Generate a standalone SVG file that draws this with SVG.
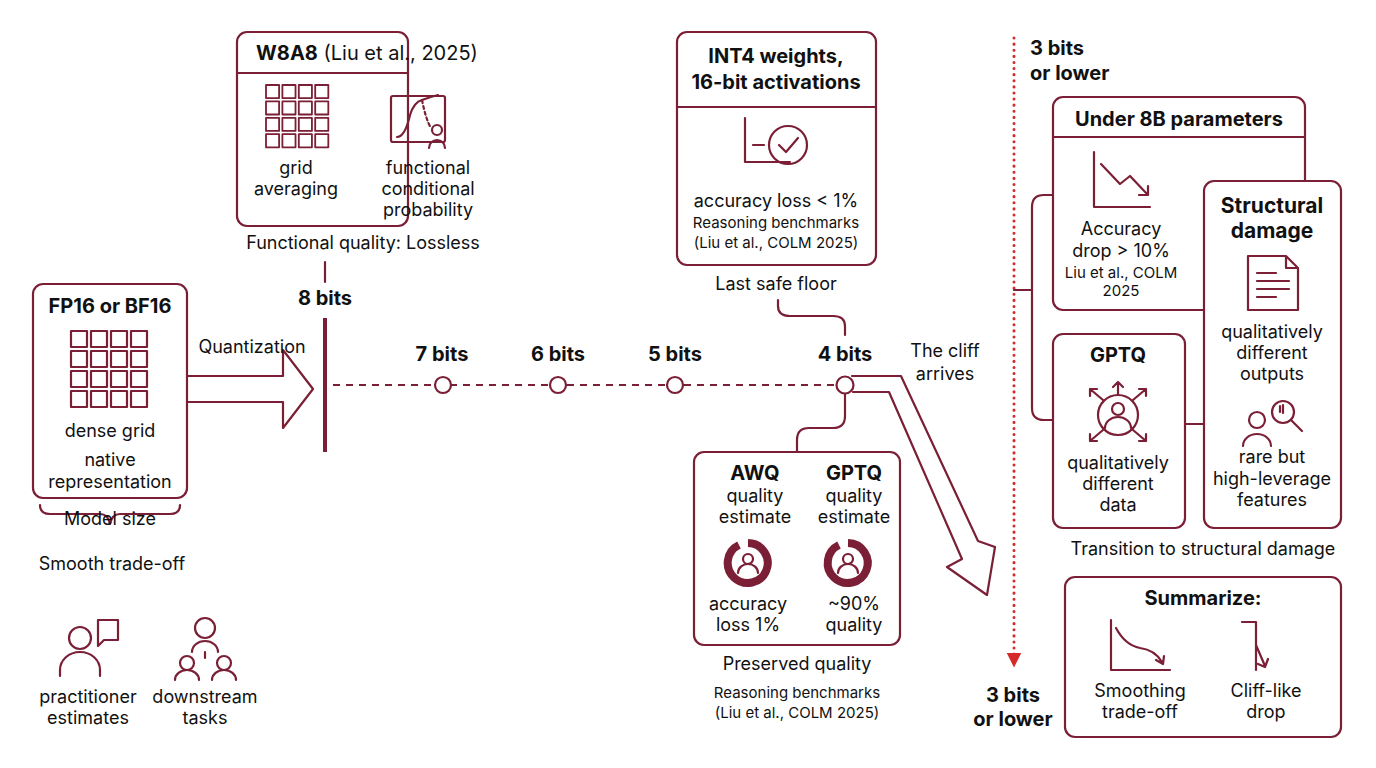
<svg xmlns="http://www.w3.org/2000/svg" width="1376" height="768" viewBox="0 0 1376 768">
<style>
text{font-family:Inter,"Liberation Sans",sans-serif;fill:#111;text-anchor:middle;font-size:18px}
.b{font-weight:700;font-size:20px}
.s{font-size:15px}
.box{fill:#fff;stroke:#7a1f35;stroke-width:2.2}
.ln{fill:none;stroke:#7a1f35;stroke-width:2.2;stroke-linecap:round;stroke-linejoin:round}
.c{fill:#fff;stroke:#7a1f35;stroke-width:2.2}
</style>
<defs>
<g id="grid" class="ln">
<rect x="0" y="0" width="16" height="16"/><rect x="20" y="0" width="16" height="16"/><rect x="40" y="0" width="16" height="16"/><rect x="60" y="0" width="16" height="16"/>
<rect x="0" y="20" width="16" height="16"/><rect x="20" y="20" width="16" height="16"/><rect x="40" y="20" width="16" height="16"/><rect x="60" y="20" width="16" height="16"/>
<rect x="0" y="40" width="16" height="16"/><rect x="20" y="40" width="16" height="16"/><rect x="40" y="40" width="16" height="16"/><rect x="60" y="40" width="16" height="16"/>
<rect x="0" y="60" width="16" height="16"/><rect x="20" y="60" width="16" height="16"/><rect x="40" y="60" width="16" height="16"/><rect x="60" y="60" width="16" height="16"/>
</g>
<g id="ring">
<path d="M-9,-18 A20,20 0 1 0 0,-20" fill="none" stroke="#7a1f35" stroke-width="8"/>
<circle cx="0" cy="-4" r="5" class="ln"/>
<path d="M-10,10 A10,9 0 0 1 10,10" class="ln"/>
</g>
<marker id="ra" viewBox="0 0 10 10" refX="5" refY="5" markerWidth="5" markerHeight="5" orient="auto"><path d="M0,0 L10,5 L0,10z" fill="#d42a2a"/></marker>
</defs>

<g id="connectors">
<path d="M186,376 H283 V350 L313,389 L283,428 V402 H186" class="ln"/>
<line x1="325" y1="318" x2="325" y2="452" stroke="#7a1f35" stroke-width="4"/>
<line x1="325" y1="262" x2="325" y2="282" class="ln"/>
<line x1="333" y1="385" x2="837" y2="385" stroke="#7a1f35" stroke-width="2" stroke-dasharray="7,6"/>
<path d="M778,300 V306 Q778,316 790,316 H833 Q845,316 845,326 V335" class="ln"/>
<path d="M845,394 V416 Q845,428 833,428 H809 Q797,428 797,440 V452" class="ln"/>
<path d="M852,376 H901 L978,541 L995,547 L987,595 L947,567 L962,559 L889,392 H853" class="ln"/>
<line x1="1014" y1="38" x2="1014" y2="660" stroke="#d42a2a" stroke-width="3" stroke-dasharray="0.1,6" stroke-linecap="round" marker-end="url(#ra)"/>
<path d="M1014,290 H1032 M1053,195 H1044 Q1032,195 1032,207 V408 Q1032,420 1044,420 H1053 M1185,424 H1204" class="ln"/>
</g>

<g id="fp16">
<rect x="33" y="284" width="154" height="214" rx="10" class="box"/>
<text x="110" y="313" class="b">FP16 or BF16</text>
<use href="#grid" x="71" y="331"/>
<text x="110" y="437">dense grid</text>
<text x="110" y="466">native</text>
<text x="110" y="488">representation</text>
<path d="M40,505 Q40,514 50,514 H100 Q108,514 110,524 Q112,514 120,514 H170 Q180,514 180,505" class="ln"/>
<text x="110" y="525">Model size</text>
<text x="112" y="570">Smooth trade-off</text>
</g>
<text x="252" y="353">Quantization</text>

<g id="w8a8">
<rect x="237" y="32" width="171" height="194" rx="10" class="box"/>
<line x1="237" y1="73" x2="408" y2="73" class="ln"/>
<text x="367" y="60" style="font-size:20px"><tspan font-weight="700">W8A8</tspan> (Liu et al., 2025)</text>
<use href="#grid" x="266" y="85" transform="translate(266 85) scale(0.82) translate(-266 -85)"/>
<rect x="391" y="96" width="54" height="46" rx="2" class="ln"/>
<path d="M397,137 Q405,137 410,115 Q414,102 422,100 Q430,97 438,95" class="ln"/>
<path d="M422,100 Q426,120 431,128" class="ln" stroke-dasharray="3,3"/>
<circle cx="437" cy="130" r="5" class="c"/>
<path d="M429,148 A8,8 0 0 1 445,148" class="ln"/>
<text x="296" y="174">grid</text>
<text x="296" y="195">averaging</text>
<text x="428" y="174">functional</text>
<text x="428" y="195">conditional</text>
<text x="428" y="216">probability</text>
<text x="363" y="249">Functional quality: Lossless</text>
</g>

<g id="bits">
<text x="325" y="305" class="b">8 bits</text>
<text x="442" y="361" class="b">7 bits</text>
<text x="558" y="361" class="b">6 bits</text>
<text x="675" y="361" class="b">5 bits</text>
<text x="845" y="361" class="b">4 bits</text>
<circle cx="443" cy="385" r="8" class="c"/>
<circle cx="558" cy="385" r="8" class="c"/>
<circle cx="675" cy="385" r="8" class="c"/>
<circle cx="845" cy="385" r="8.5" class="c"/>
<text x="945" y="357">The cliff</text>
<text x="945" y="380">arrives</text>
</g>

<g id="int4">
<rect x="677" y="32" width="199" height="233" rx="10" class="box"/>
<line x1="677" y1="107" x2="876" y2="107" class="ln"/>
<text x="776" y="63" class="b">INT4 weights,</text>
<text x="776" y="89" class="b">16-bit activations</text>
<path d="M745,118 V162 H790 M753,145 H764" class="ln"/>
<circle cx="788" cy="145" r="19" class="ln"/>
<path d="M779,145 L786,152 L798,138" class="ln"/>
<text x="776" y="207">accuracy loss &lt; 1%</text>
<text x="776" y="228" class="s">Reasoning benchmarks</text>
<text x="776" y="248" class="s">(Liu et al., COLM 2025)</text>
<text x="776" y="290">Last safe floor</text>
</g>

<g id="awq">
<rect x="694" y="452" width="206" height="193" rx="10" class="box"/>
<text x="755" y="480" class="b">AWQ</text>
<text x="755" y="502">quality</text>
<text x="755" y="523">estimate</text>
<text x="854" y="480" class="b">GPTQ</text>
<text x="854" y="502">quality</text>
<text x="854" y="523">estimate</text>
<use href="#ring" x="748" y="563"/>
<use href="#ring" x="848" y="563"/>
<text x="748" y="610">accuracy</text>
<text x="748" y="631">loss 1%</text>
<text x="854" y="610">~90%</text>
<text x="854" y="631">quality</text>
<text x="797" y="670">Preserved quality</text>
<text x="797" y="698" class="s">Reasoning benchmarks</text>
<text x="797" y="718" class="s">(Liu et al., COLM 2025)</text>
</g>

<g id="three">
<text x="1030" y="55" class="b" style="text-anchor:start">3 bits</text>
<text x="1030" y="80" class="b" style="text-anchor:start">or lower</text>
<text x="1013" y="702" class="b">3 bits</text>
<text x="1013" y="726" class="b">or lower</text>
</g>

<g id="under8b">
<rect x="1053" y="97" width="252" height="213" rx="10" class="box"/>
<line x1="1053" y1="137" x2="1305" y2="137" class="ln"/>
<text x="1179" y="126" class="b">Under 8B parameters</text>
<path d="M1094,152 V207 H1150 M1101,164 L1120,184 L1130,176 L1148,195 M1139,195 H1148 V186" class="ln"/>
<text x="1121" y="235">Accuracy</text>
<text x="1121" y="257">drop &gt; 10%</text>
<text x="1121" y="278" class="s">Liu et al., COLM</text>
<text x="1121" y="296" class="s">2025</text>
</g>

<g id="structural">
<rect x="1204" y="181" width="137" height="347" rx="10" class="box"/>
<text x="1272" y="213" class="b" style="font-size:21px">Structural</text>
<text x="1272" y="238" class="b" style="font-size:21px">damage</text>
<path d="M1248,256 H1286 L1298,268 V310 H1248 Z M1286,256 V268 H1298 M1257,273 H1276 M1257,281 H1289 M1257,289 H1289 M1257,297 H1276" class="ln"/>
<text x="1272" y="338">qualitatively</text>
<text x="1272" y="359">different</text>
<text x="1272" y="380">outputs</text>
<circle cx="1257" cy="420" r="8" class="ln"/>
<path d="M1243,446 A14,12 0 0 1 1271,446" class="ln"/>
<circle cx="1283" cy="412" r="11" class="c"/>
<path d="M1291,420 L1302,431 M1283,405 V413 M1280,406 V412" class="ln"/>
<text x="1272" y="463">rare but</text>
<text x="1272" y="485">high-leverage</text>
<text x="1272" y="506">features</text>
</g>

<g id="gptq">
<rect x="1053" y="334" width="132" height="194" rx="10" class="box"/>
<text x="1118" y="362" class="b">GPTQ</text>
<circle cx="1118" cy="415" r="20" class="ln"/>
<circle cx="1118" cy="409" r="6" class="ln"/>
<path d="M1105,428 A13,11 0 0 1 1131,428" class="ln"/>
<path d="M1118,395 V382 M1113,387 L1118,382 L1123,387 M1103,400 L1090,389 M1090,396 V389 H1097 M1133,400 L1146,389 M1146,396 V389 H1139 M1103,430 L1090,441 M1090,434 V441 H1097 M1133,430 L1146,441 M1146,434 V441 H1139" class="ln"/>
<text x="1118" y="469">qualitatively</text>
<text x="1118" y="490">different</text>
<text x="1118" y="511">data</text>
</g>
<text x="1203" y="555">Transition to structural damage</text>

<g id="summarize">
<rect x="1065" y="577" width="276" height="160" rx="10" class="box"/>
<text x="1203" y="605" class="b">Summarize:</text>
<path d="M1111,620 V670 H1170 M1116,628 Q1125,645 1140,648 Q1155,650 1162,662 M1156,660 L1163,664 L1164,656" class="ln"/>
<path d="M1242,622 H1256 V670 M1256,645 L1265,666 M1258,664 L1265,667 L1268,659" class="ln"/>
<text x="1140" y="697">Smoothing</text>
<text x="1140" y="718">trade-off</text>
<text x="1266" y="697">Cliff-like</text>
<text x="1266" y="718">drop</text>
</g>

<g id="practitioner">
<circle cx="80" cy="638" r="11" class="ln"/>
<path d="M60,676 V670 A20,18 0 0 1 100,670 V676" class="ln"/>
<path d="M98,620 H118 V640 H104 L98,646 V620 Z" class="ln"/>
<text x="88" y="703">practitioner</text>
<text x="88" y="724">estimates</text>
</g>
<g id="downstream">
<circle cx="205" cy="628" r="10" class="ln"/>
<path d="M192,652 A13,11 0 0 1 218,652 M205,652 V658" class="ln"/>
<circle cx="187" cy="663" r="7" class="ln"/>
<circle cx="224" cy="663" r="7" class="ln"/>
<path d="M175,680 A12,10 0 0 1 199,680 M212,680 A12,10 0 0 1 236,680" class="ln"/>
<text x="205" y="703">downstream</text>
<text x="205" y="724">tasks</text>
</g>
</svg>
